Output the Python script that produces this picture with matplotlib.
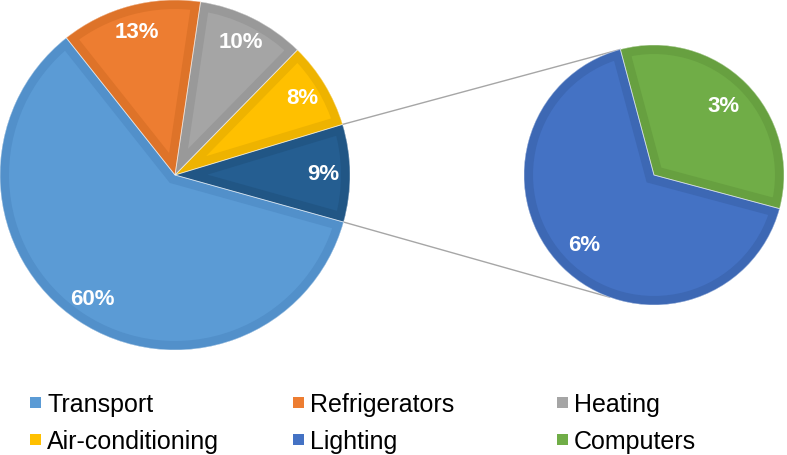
import numpy as np
import matplotlib
matplotlib.use('Agg')
import matplotlib.pyplot as plt
from matplotlib.patches import Rectangle, Wedge

plt.rcParams['font.family'] = ['Liberation Sans', 'DejaVu Sans']

# data
main_labels = ['Transport', 'Refrigerators', 'Heating', 'Air-conditioning']
main_values = [60, 13, 10, 8]
main_colors = ['#5B9BD5', '#ED7D31', '#A5A5A5', '#FFC000']
main_edges = ['#5290CA', '#DE7329', '#999999', '#EEB300']

sub_labels = ['Lighting', 'Computers']
sub_values = [6, 3]
sub_colors = ['#4472C4', '#70AD47']
sub_edges = ['#3D68B4', '#67A040']

other_color = '#255E91'
other_edge = '#215685'

W, H = 787, 456
fig = plt.figure(figsize=(W / 100, H / 100), dpi=100)
ax = fig.add_axes([0, 0, 1, 1])


def draw_pie(vals, faces, edges, center, radius, start, pctdist):
    total = sum(vals)
    wedges, texts, autotexts = ax.pie(
        vals, colors=faces, center=center, radius=radius, startangle=start,
        counterclock=True, autopct=lambda p: f'{p * total / 100:.0f}%',
        pctdistance=pctdist,
        textprops=dict(color='white', fontsize=16, fontweight='bold'),
        wedgeprops=dict(linewidth=0))
    for w, ec in zip(wedges, edges):
        # inset border: stroke the outline and keep only the inner half
        border = Wedge(center, radius, w.theta1, w.theta2, fill=False,
                       ec=ec, lw=13, joinstyle='miter')
        ax.add_patch(border)
        border.set_clip_path(w.get_path(), w.get_transform())
    for w in wedges:
        ax.add_patch(Wedge(center, radius, w.theta1, w.theta2, fill=False,
                           ec='white', lw=0.6, alpha=0.5))
    for t in autotexts:
        t.set_zorder(5)
    return wedges


# main pie (counter-clockwise from the "other" slice)
main_vals = [sum(sub_values)] + main_values[::-1]
main_faces = [other_color] + main_colors[::-1]
main_ecs = [other_edge] + main_edges[::-1]
c1, r1 = (175, 280), 175
mw = draw_pie(main_vals, main_faces, main_ecs, c1, r1, -15.6, 0.85)

# secondary pie
c2, r2 = (654, 280), 130
sw = draw_pie(sub_values[::-1], sub_colors[::-1], sub_edges[::-1], c2, r2, -15, 0.76)

# connector lines
def pt(c, r, ang):
    a = np.deg2rad(ang)
    return c[0] + r * np.cos(a), c[1] + r * np.sin(a)

p1 = pt(c1, r1, mw[0].theta2)
p2 = pt(c2, r2, sw[0].theta2)
p3 = pt(c1, r1, mw[0].theta1)
p4 = pt(c2, r2, 250)
ax.plot([p1[0], p2[0]], [p1[1], p2[1]], color='#A6A6A6', lw=1, zorder=0)
ax.plot([p3[0], p4[0]], [p3[1], p4[1]], color='#A6A6A6', lw=1, zorder=0)

# legend
leg_labels = main_labels + sub_labels
leg_colors = main_colors + sub_colors
col_x = [30, 293, 557]
row_y = [H - 403, H - 440]
for i, (lab, col) in enumerate(zip(leg_labels, leg_colors)):
    x = col_x[i % 3]
    y = row_y[i // 3]
    ax.add_patch(Rectangle((x, y - 5.5), 11, 11, color=col, lw=0))
    ax.text(x + 17, y, lab, fontsize=18, va='center_baseline', ha='left',
            color='black')

ax.set_xlim(0, W)
ax.set_ylim(0, H)
ax.set_aspect('equal')
ax.axis('off')

fig.savefig('out.png', dpi=100, facecolor='white')
